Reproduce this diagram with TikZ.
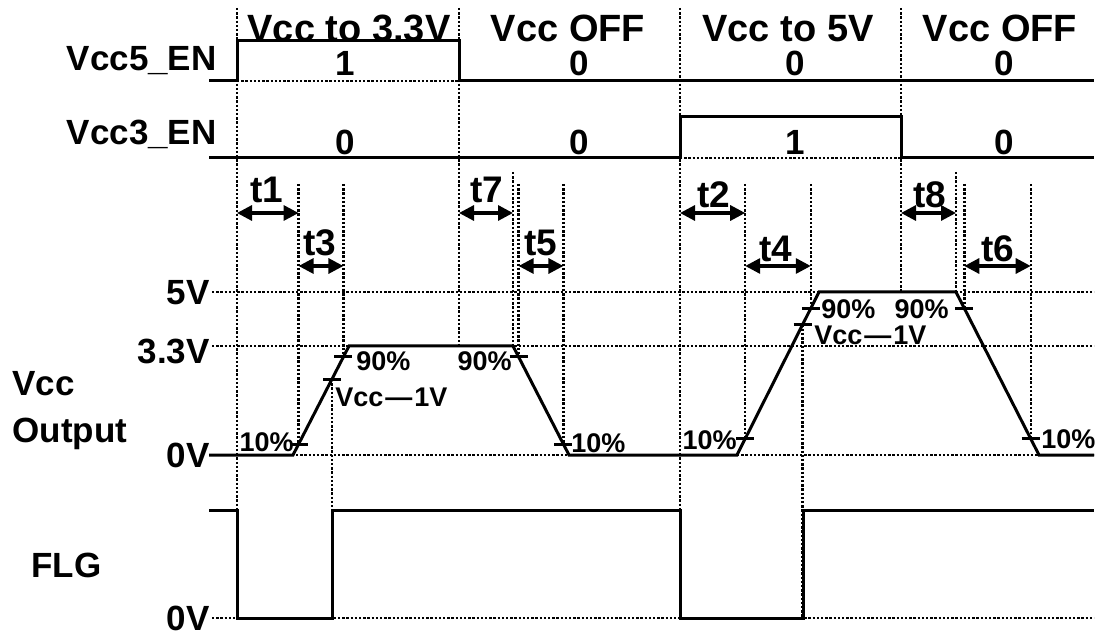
\documentclass[tikz,border=0pt]{standalone}
\usepackage{fontspec}
\setmainfont{Liberation Sans}
\usetikzlibrary{calc,arrows.meta}
\begin{document}
\begin{tikzpicture}[x=0.5pt,y=-0.5pt,
  sig/.style={line width=1.5pt,line join=miter},
  dotln/.style={line width=1.2pt,dash pattern=on 1.2pt off 0.9pt},
  dimarrow/.style={line width=1.6pt,{Triangle[length=7.5pt,width=7.5pt]}-{Triangle[length=7.5pt,width=7.5pt]}},
  big/.style={font=\bfseries\fontsize{17.5}{20}\selectfont,inner sep=0pt},
  tlab/.style={font=\bfseries\fontsize{18.5}{21}\selectfont,inner sep=0pt},
  toplab/.style={font=\bfseries\fontsize{19}{22}\selectfont,inner sep=0pt},
  pct/.style={font=\bfseries\fontsize{13.5}{15}\selectfont,inner sep=0pt},
  tick/.style={line width=1.5pt}]
\useasboundingbox (0,0) rectangle (1098,636);
% ---------- reference coordinates
\coordinate (ytopall) at (0,8);
\coordinate (ytop) at (0,184);
\coordinate (ytopb) at (0,172);
\coordinate (yarA) at (0,213);
\coordinate (yarB) at (0,266);
\coordinate (yflg) at (0,618);
% ramps
\coordinate (r1a) at (293,455); \coordinate (r1b) at (349,346);
\coordinate (f1a) at (513,346); \coordinate (f1b) at (569,455);
\coordinate (r2a) at (737,455); \coordinate (r2b) at (819,292);
\coordinate (f2a) at (956,292); \coordinate (f2b) at (1039,455);
\coordinate (r1p10) at ($(r1a)!0.1!(r1b)$);
\coordinate (r1p90) at ($(r1a)!0.9!(r1b)$);
\coordinate (r1v1) at ($(r1a)!0.697!(r1b)$);
\coordinate (f1p90) at ($(f1a)!0.1!(f1b)$);
\coordinate (f1p10) at ($(f1a)!0.9!(f1b)$);
\coordinate (r2p10) at ($(r2a)!0.1!(r2b)$);
\coordinate (r2p90) at ($(r2a)!0.9!(r2b)$);
\coordinate (r2v1) at ($(r2a)!0.8!(r2b)$);
\coordinate (f2p90) at ($(f2a)!0.1!(f2b)$);
\coordinate (f2p10) at ($(f2a)!0.9!(f2b)$);
\coordinate (e5up) at (237,41); \coordinate (e5dn) at (459,41);
\coordinate (e3up) at (680,117); \coordinate (e3dn) at (901,117);
\coordinate (flg1) at (332,618); \coordinate (flg2) at (803,618);
% ---------- dotted grid
\draw[dotln] (212,292) -- (1094,292);
\draw[dotln] (212,346) -- (1094,346);
\draw[dotln] (212,455) -- (1094,455);
\draw[dotln] (212,618) -- (1094,618);
\draw[dotln] (237,81) -- (459,81);
\draw[dotln] (680,158) -- (901,158);
\draw[dotln] (e5up |- ytopall) -- (e5up |- yflg);
\draw[dotln] (e5dn |- ytopall) -- (f1a -| e5dn);
\draw[dotln] (e3up |- ytopall) -- (e3up |- yflg);
\draw[dotln] (e3dn |- ytopall) -- (f2a -| e3dn);
\draw[dotln] (r1p10 |- ytop) -- (r1p10);
\draw[dotln] (r1p90 |- ytop) -- (r1p90);
\draw[dotln] (r1v1) -- (r1v1 |- yflg);
\draw[dotln] (f1a |- ytopb) -- (f1a);
\draw[dotln] (f1p90 |- ytop) -- (f1p90);
\draw[dotln] (f1p10 |- ytop) -- (f1p10);
\draw[dotln] (r2p10 |- ytop) -- (r2p10);
\draw[dotln] (r2p90 |- ytop) -- (r2p90);
\draw[dotln] (r2v1) -- (r2v1 |- yflg);
\draw[dotln] (f2a |- ytopb) -- (f2a);
\draw[dotln] (f2p90 |- ytop) -- (f2p90);
\draw[dotln] (f2p10 |- ytop) -- (f2p10);
% ---------- signals
\draw[sig] (209,81) -- (e5up |- 0,81) -- (e5up) -- (e5dn) -- (e5dn |- 0,81) -- (1094,81);
\draw[sig] (209,158) -- (e3up |- 0,158) -- (e3up) -- (e3dn) -- (e3dn |- 0,158) -- (1094,158);
\draw[sig] (209,455) -- (r1a) -- (r1b) -- (f1a) -- (f1b) -- (r2a) -- (r2b) -- (f2a) -- (f2b) -- (1094,455);
\draw[sig] (209,510) -- (237,510) -- (237,618) -- (flg1) -- (flg1 |- 0,510) -- (680,510) -- (680,618) -- (flg2) -- (flg2 |- 0,510) -- (1094,510);
% ticks
\foreach \p in {r1p10,r1p90,r1v1,f1p90,f1p10,r2p10,r2p90,r2v1,f2p90,f2p10}
  \draw[tick] ($(\p)+(-9,0)$) -- ($(\p)+(9,0)$);
% ---------- dimension arrows
\draw[dimarrow] (e5up |- yarA) -- (r1p10 |- yarA);
\draw[dimarrow] (r1p10 |- yarB) -- (r1p90 |- yarB);
\draw[dimarrow] (e5dn |- yarA) -- (f1a |- yarA);
\draw[dimarrow] (f1p90 |- yarB) -- (f1p10 |- yarB);
\draw[dimarrow] (e3up |- yarA) -- (r2p10 |- yarA);
\draw[dimarrow] (r2p10 |- yarB) -- (r2p90 |- yarB);
\draw[dimarrow] (e3dn |- yarA) -- (f2a |- yarA);
\draw[dimarrow] (f2p90 |- yarB) -- (f2p10 |- yarB);
\node[tlab] (lt1) at (267,190) {t1};
\node[tlab] (lt3) at (320,243) {t3};
\node[tlab] (lt7) at (487,190) {t7};
\node[tlab] (lt5) at (541,243) {t5};
\node[tlab] (lt2) at (714,195) {t2};
\node[tlab] (lt4) at (776,249) {t4};
\node[tlab] (lt8) at (930,195) {t8};
\node[tlab] (lt6) at (998,249) {t6};
% ---------- text
\node[toplab,anchor=base] (h1) at (349,42) {Vcc to 3.3V};
\node[toplab,anchor=base] (h2) at (568,42) {Vcc OFF};
\node[toplab,anchor=base] (h3) at (788,42) {Vcc to 5V};
\node[toplab,anchor=base] (h4) at (1000,42) {Vcc OFF};
\node[big,anchor=base east] (n5) at (217,71) {Vcc5\_EN};
\node[big,anchor=base east] (n3) at (217,145) {Vcc3\_EN};
\node[big,anchor=base] (a1) at (345,76) {1};
\node[big,anchor=base] (a2) at (579,76) {0};
\node[big,anchor=base] (a3) at (795,76) {0};
\node[big,anchor=base] (a4) at (1004,76) {0};
\node[big,anchor=base] (b1) at (345,155) {0};
\node[big,anchor=base] (b2) at (579,155) {0};
\node[big,anchor=base] (b3) at (795,155) {1};
\node[big,anchor=base] (b4) at (1004,155) {0};
\node[big,anchor=east] (v5) at (210,293) {5V};
\node[big,anchor=east] (v33) at (210,351) {3.3V};
\node[big,anchor=east] (v0) at (210,455) {0V};
\node[big,anchor=east] (vf0) at (210,618) {0V};
\node[big,anchor=base west] (vcc) at (12,395) {Vcc};
\node[big,anchor=base west] (outp) at (12,442) {Output};
\node[big,anchor=base west] (flg) at (31,577) {FLG};
\node[pct,anchor=east] (q1) at (294,442) {10\%};
\node[pct,anchor=west] (q2) at (356,361) {90\%};
\node[pct,anchor=west] (q3) at (335,397) {Vcc\kern1pt—\kern1pt1V};
\node[pct,anchor=east] (q4) at (512,361) {90\%};
\node[pct,anchor=west] (q5) at (571,443) {10\%};
\node[pct,anchor=east] (q6) at (737,440) {10\%};
\node[pct,anchor=west] (q7) at (821,309) {90\%};
\node[pct,anchor=west] (q8) at (814,335) {Vcc\kern1pt—\kern1pt1V};
\node[pct,anchor=east] (q9) at (949,309) {90\%};
\node[pct,anchor=west] (q10) at (1041,439) {10\%};
\end{tikzpicture}
\end{document}
